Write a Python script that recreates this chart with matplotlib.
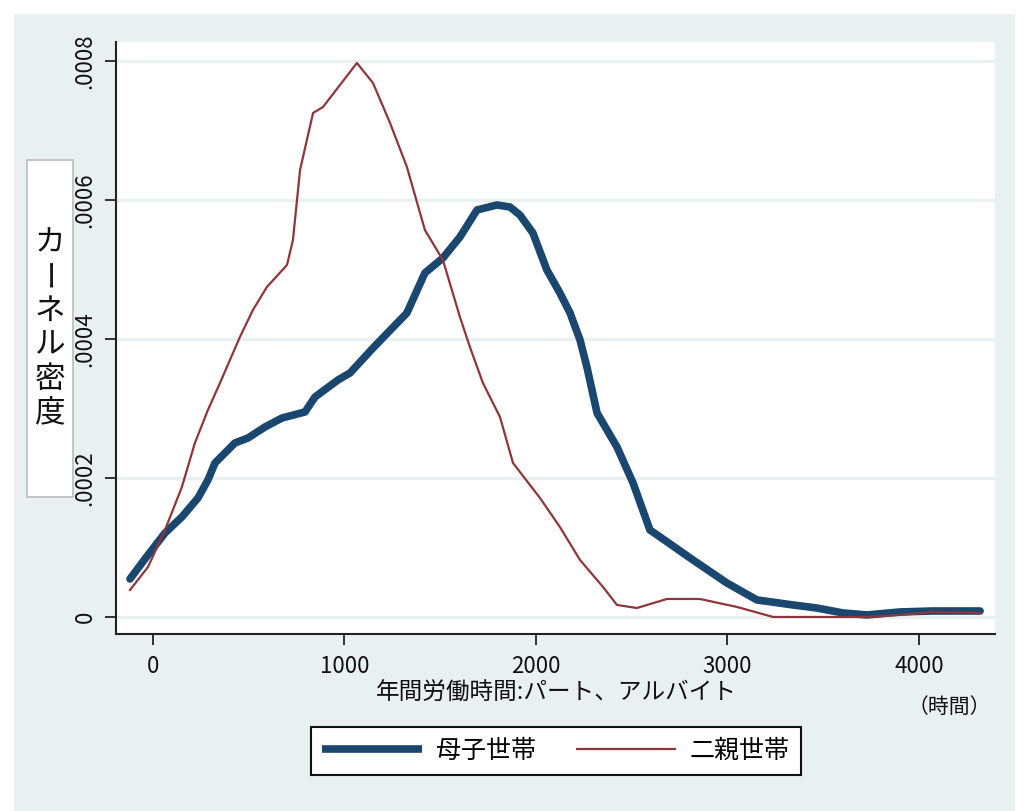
import numpy as np
import matplotlib
matplotlib.use("Agg")
import matplotlib.pyplot as plt
from matplotlib.patches import Rectangle

plt.rcParams['font.family'] = ['Noto Sans CJK JP', 'DejaVu Sans']

# kernel density, single-mother households
boshi_x = [-120, -26, 63, 151, 235, 287, 324, 428, 496, 585, 674, 794, 846, 966,
           1029, 1149, 1326, 1420, 1514, 1603, 1692, 1796, 1864, 1916, 1984, 2057,
           2125, 2178, 2230, 2266, 2319, 2423, 2507, 2595, 2648, 2820, 2997, 3154,
           3342, 3467, 3603, 3728, 3901, 4073, 4319]
boshi_y = [5.47e-5, 8.92e-5, 1.209e-4, 1.439e-4, 1.712e-4, 1.971e-4, 2.216e-4,
           2.504e-4, 2.575e-4, 2.734e-4, 2.863e-4, 2.950e-4, 3.165e-4, 3.410e-4,
           3.511e-4, 3.870e-4, 4.374e-4, 4.950e-4, 5.165e-4, 5.467e-4, 5.856e-4,
           5.928e-4, 5.899e-4, 5.784e-4, 5.525e-4, 4.993e-4, 4.662e-4, 4.374e-4,
           3.986e-4, 3.597e-4, 2.935e-4, 2.446e-4, 1.928e-4, 1.252e-4, 1.151e-4,
           8.20e-5, 4.89e-5, 2.45e-5, 1.73e-5, 1.29e-5, 5.8e-6, 2.9e-6, 7.2e-6,
           8.6e-6, 8.6e-6]

# kernel density, two-parent households
futaoya_x = [-120, -26, 63, 151, 219, 287, 350, 454, 522, 595, 700, 731, 768, 836,
             888, 1065, 1149, 1238, 1326, 1420, 1514, 1603, 1655, 1723, 1812, 1880,
             2021, 2125, 2230, 2350, 2423, 2527, 2684, 2856, 3050, 3238, 3728, 3901,
             4073, 4319]
futaoya_y = [3.88e-5, 7.19e-5, 1.252e-4, 1.870e-4, 2.504e-4, 2.978e-4, 3.367e-4,
             4.029e-4, 4.417e-4, 4.748e-4, 5.065e-4, 5.424e-4, 6.431e-4, 7.252e-4,
             7.338e-4, 7.971e-4, 7.683e-4, 7.108e-4, 6.475e-4, 5.568e-4, 5.137e-4,
             4.316e-4, 3.885e-4, 3.367e-4, 2.878e-4, 2.216e-4, 1.712e-4, 1.295e-4,
             8.20e-5, 4.32e-5, 1.73e-5, 1.29e-5, 2.59e-5, 2.59e-5, 1.44e-5, 0.0,
             0.0, 2.9e-6, 7.2e-6, 5.8e-6]

xticks = [0, 1000, 2000, 3000, 4000]
yticks = [0, 0.0002, 0.0004, 0.0006, 0.0008]
ytick_labels = ["0", ".0002", ".0004", ".0006", ".0008"]
series_names = ["母子世帯", "二親世帯"]

W, H = 1024, 811
bg = '#e9f0f2'
navy = '#1a476f'
maroon = '#90353b'

fig = plt.figure(figsize=(W / 100, H / 100), dpi=100, facecolor='white')
# light outer panel
fig.patches.append(Rectangle((14 / W, 0), (1015 - 14) / W, 1 - 14 / H,
                             transform=fig.transFigure, facecolor=bg,
                             edgecolor='none', zorder=-10))

ax = fig.add_axes([116 / W, 1 - 634 / H, (995 - 116) / W, (634 - 42) / H])
ax.set_zorder(2)
ax.set_facecolor('white')

for yv in yticks:
    ax.axhline(yv, color=bg, lw=2.2, zorder=1)

l1, = ax.plot(boshi_x, boshi_y, color=navy, lw=5.5, solid_capstyle='round',
              solid_joinstyle='round', zorder=3)
l2, = ax.plot(futaoya_x, futaoya_y, color=maroon, lw=1.6, zorder=4)

ax.set_xlim(-193, 4397)
ax.set_ylim(-2.45e-5, 8.273e-4)

ax.set_xticks(xticks)
ax.set_xticklabels([str(v) for v in xticks], fontsize=16)
ax.set_yticks(yticks)
ax.set_yticklabels(ytick_labels, fontsize=16, rotation=90, va='center')

ax.tick_params(axis='both', direction='out', length=8, width=1.3, color='#222222',
               labelcolor='#111111')
ax.tick_params(axis='x', pad=7)
ax.tick_params(axis='y', pad=6)

for side in ['top', 'right']:
    ax.spines[side].set_visible(False)
for side in ['left', 'bottom']:
    ax.spines[side].set_color('#222222')
    ax.spines[side].set_linewidth(1.5)

# x axis title and unit
fig.text(556 / W, 1 - 693 / H, "年間労働時間:パート、アルバイト", fontsize=17,
         ha='center', va='center', color='#111111')
fig.text(949 / W, 1 - 707 / H, "（時間）", fontsize=15, ha='center', va='center',
         color='#111111')

# y axis title, stacked vertically in a box
fig.patches.append(Rectangle((27 / W, 1 - 497 / H), (73 - 27) / W, (497 - 160) / H,
                             transform=fig.transFigure, facecolor='white',
                             edgecolor='#bbbbbb', lw=1.2, zorder=1))
ylab = "カーネル密度"
pitch = 34
y0 = 328 - pitch * (len(ylab) - 1) / 2
for i, ch in enumerate(ylab):
    # long vowel mark turned upright for vertical writing
    if ch == 'ー':
        rot, cx = -90, 44
    else:
        rot, cx = 0, 50
    fig.text(cx / W, 1 - (y0 + i * pitch) / H, ch, fontsize=22, ha='center',
             va='center', rotation=rot, color='#111111', zorder=2)

leg = fig.legend([l1, l2], series_names, loc='center',
                 bbox_to_anchor=(556 / W, 1 - 751 / H), ncol=2, fontsize=18,
                 frameon=True, fancybox=False, framealpha=1, handlelength=4.0,
                 handletextpad=0.55, columnspacing=1.6, borderpad=0.45)
leg.get_frame().set_edgecolor('#111111')
leg.get_frame().set_linewidth(1.5)
leg.get_frame().set_facecolor('white')
for ln in leg.get_lines():
    ln.set_solid_capstyle('butt')

fig.savefig("out.png", dpi=100, facecolor=fig.get_facecolor())
